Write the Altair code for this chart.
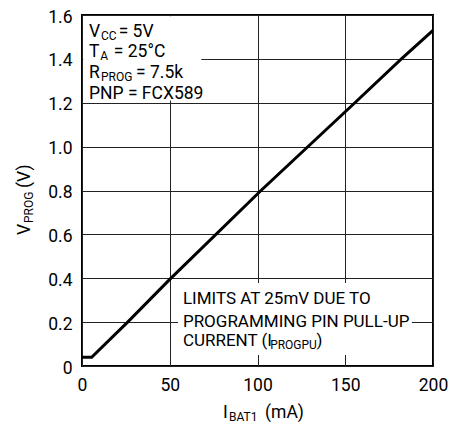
import altair as alt
import pandas as pd

FONT = "Roboto"
MAIN = 17.5
NOTE = 17
SUB = 12

# ---- data ----
i_bat1_ma = [0, 5.5, 26, 50, 102, 155.5, 182, 200]
v_prog_v = [0.04, 0.04, 0.2, 0.395, 0.8, 1.2, 1.4, 1.53]

x_ticks = [0, 50, 100, 150, 200]
y_ticks = [0, 0.2, 0.4, 0.6, 0.8, 1.0, 1.2, 1.4, 1.6]

# ---- annotation text pieces (data units) ----
main_txt = ["V", "= 5V", "T", "= 25°C", "R", "= 7.5k", "PNP = FCX589",
            "I", "(mA)"]
main_x = [4.0, 20.9, 4.0, 18.1, 4.0, 30.8, 4.0,
          80.3, 104.3]
main_y = [1.50, 1.50, 1.409, 1.409, 1.315, 1.315, 1.215,
          -0.237, -0.237]

note_txt = ["LIMITS AT 25mV DUE TO", "PROGRAMMING PIN PULL-UP", "CURRENT (I", ")"]
note_x = [57.5, 57.5, 57.5, 133.6]
note_y = [0.2826, 0.1778, 0.0912, 0.0912]

sub_txt = ["CC", "A", "PROG", "PROGPU", "BAT1"]
sub_x = [10.8, 10.4, 10.8, 107.2, 83.8]
sub_y = [1.50, 1.409, 1.315, 0.0912, -0.237]

ytitle_txt = ["V", "(V)"]
ytitle_x = [-29.6, -29.6]
ytitle_y = [0.597, 0.811]
ytitle_sub_txt = ["PROG"]
ytitle_sub_x = [-29.6]
ytitle_sub_y = [0.6518]

# white backgrounds behind the two notes
box_x = [0.7, 54.7]
box_x2 = [68, 188]
box_y = [1.21, 0.05]
box_y2 = [1.5945, 0.378]

xs = alt.Scale(domain=[0, 200], nice=False)
ys = alt.Scale(domain=[0, 1.6], nice=False)

curve_df = pd.DataFrame({"x": i_bat1_ma, "y": v_prog_v})
main_df = pd.DataFrame({"t": main_txt, "x": main_x, "y": main_y})
note_df = pd.DataFrame({"t": note_txt, "x": note_x, "y": note_y})
sub_df = pd.DataFrame({"t": sub_txt, "x": sub_x, "y": sub_y})
yt_df = pd.DataFrame({"t": ytitle_txt, "x": ytitle_x, "y": ytitle_y})
yts_df = pd.DataFrame({"t": ytitle_sub_txt, "x": ytitle_sub_x, "y": ytitle_sub_y})
box_df = pd.DataFrame({"x": box_x, "x2": box_x2, "y": box_y, "y2": box_y2})

axis_common = dict(grid=True, ticks=False, tickSize=0, domain=False,
                   gridColor="#222", gridWidth=1, gridOpacity=1,
                   labelFont=FONT, labelFontSize=MAIN, labelColor="black",
                   labelPadding=10, labelFlush=False, title=None)
xaxis = alt.Axis(values=x_ticks, **axis_common)
yaxis = alt.Axis(values=y_ticks, labelOffset=2,
                 labelExpr="datum.value == 0 ? '0' : format(datum.value, '.1f')",
                 **axis_common)

X = alt.X("x:Q", scale=xs, axis=xaxis)
Y = alt.Y("y:Q", scale=ys, axis=yaxis)

curve = alt.Chart(curve_df).mark_line(color="black", strokeWidth=3).encode(x=X, y=Y)

boxes = alt.Chart(box_df).mark_rect(color="white").encode(
    x=X, x2="x2:Q", y=Y, y2="y2:Q",
)

def text_layer(df, size, **kw):
    return alt.Chart(df).mark_text(
        font=FONT, fontSize=size, align="left", baseline="alphabetic",
        color="black", **kw
    ).encode(x=X, y=Y, text="t:N")

main_text = text_layer(main_df, MAIN)
note_text = text_layer(note_df, NOTE)
sub_text = text_layer(sub_df, SUB, dy=3)
ytitle = text_layer(yt_df, MAIN, angle=270)
ytitle_sub = text_layer(yts_df, SUB, angle=270, dy=3)

chart = alt.layer(boxes, curve, main_text, note_text, sub_text, ytitle, ytitle_sub).properties(
    width=351, height=351,
    autosize="none",
    background="white",
    padding={"left": 74, "top": 7, "right": 22, "bottom": 57},
).configure_view(stroke="black", strokeWidth=2)

chart.save("out.html", embed_options={"renderer": "svg", "actions": False})
